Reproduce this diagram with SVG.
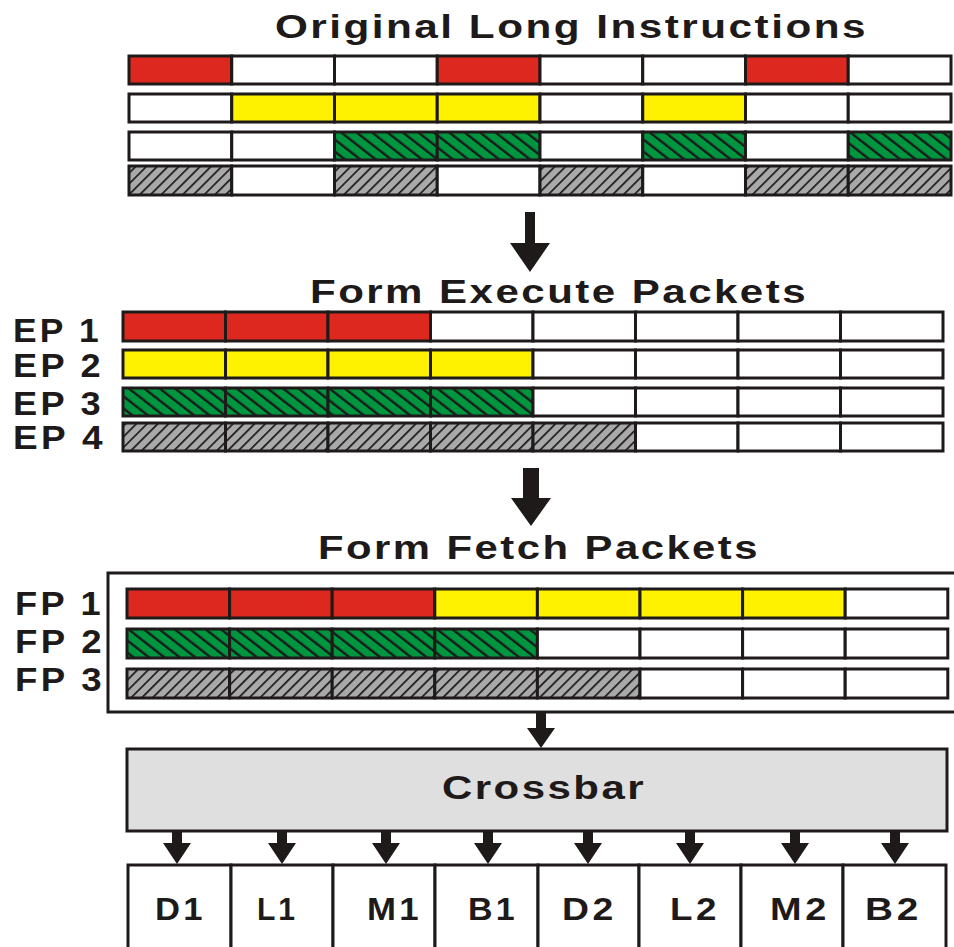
<svg xmlns="http://www.w3.org/2000/svg" width="954" height="947" viewBox="0 0 954 947">
<defs>
<pattern id="hg" patternUnits="userSpaceOnUse" width="9.5" height="9.5" patternTransform="rotate(-52)">
<rect width="9.5" height="9.5" fill="#00963f"/>
<rect x="0" y="0" width="2.4" height="9.5" fill="#1a1a1a"/>
</pattern>
<pattern id="hs" patternUnits="userSpaceOnUse" width="7.6" height="7.6" patternTransform="rotate(45)">
<rect width="7.6" height="7.6" fill="#a9a9a9"/>
<rect x="0" y="0" width="1.7" height="7.6" fill="#1a1a1a"/>
</pattern>
</defs>
<style>
rect.c{stroke:#1e1a1a;stroke-width:3}
.W{fill:#ffffff}.R{fill:#dc281e}.Y{fill:#fff200}.G{fill:url(#hg)}.S{fill:url(#hs)}
text{font-family:"Liberation Sans",Arial,sans-serif;font-weight:bold;fill:#1e1a1a}
.t{font-size:34px;letter-spacing:2px}
.lb{font-size:33px;letter-spacing:3px}
.u{font-size:31px;letter-spacing:3px}
.ar{fill:#1e1a1a}
</style>
<rect width="954" height="947" fill="#ffffff"/>

<g id="title1"><text class="t" x="275" y="38" textLength="593" lengthAdjust="spacingAndGlyphs">Original Long Instructions</text></g>

<g id="original">
<g id="orow1">
<rect class="c R" x="129" y="56" width="102.75" height="28"/>
<rect class="c W" x="231.75" y="56" width="102.75" height="28"/>
<rect class="c W" x="334.5" y="56" width="102.75" height="28"/>
<rect class="c R" x="437.25" y="56" width="102.75" height="28"/>
<rect class="c W" x="540" y="56" width="102.75" height="28"/>
<rect class="c W" x="642.75" y="56" width="102.75" height="28"/>
<rect class="c R" x="745.5" y="56" width="102.75" height="28"/>
<rect class="c W" x="848.25" y="56" width="102.75" height="28"/>
</g>
<g id="orow2">
<rect class="c W" x="129" y="94" width="102.75" height="28"/>
<rect class="c Y" x="231.75" y="94" width="102.75" height="28"/>
<rect class="c Y" x="334.5" y="94" width="102.75" height="28"/>
<rect class="c Y" x="437.25" y="94" width="102.75" height="28"/>
<rect class="c W" x="540" y="94" width="102.75" height="28"/>
<rect class="c Y" x="642.75" y="94" width="102.75" height="28"/>
<rect class="c W" x="745.5" y="94" width="102.75" height="28"/>
<rect class="c W" x="848.25" y="94" width="102.75" height="28"/>
</g>
<g id="orow3">
<rect class="c W" x="129" y="132" width="102.75" height="28"/>
<rect class="c W" x="231.75" y="132" width="102.75" height="28"/>
<rect class="c G" x="334.5" y="132" width="102.75" height="28"/>
<rect class="c G" x="437.25" y="132" width="102.75" height="28"/>
<rect class="c W" x="540" y="132" width="102.75" height="28"/>
<rect class="c G" x="642.75" y="132" width="102.75" height="28"/>
<rect class="c W" x="745.5" y="132" width="102.75" height="28"/>
<rect class="c G" x="848.25" y="132" width="102.75" height="28"/>
</g>
<g id="orow4">
<rect class="c S" x="129" y="166" width="102.75" height="29"/>
<rect class="c W" x="231.75" y="166" width="102.75" height="29"/>
<rect class="c S" x="334.5" y="166" width="102.75" height="29"/>
<rect class="c W" x="437.25" y="166" width="102.75" height="29"/>
<rect class="c S" x="540" y="166" width="102.75" height="29"/>
<rect class="c W" x="642.75" y="166" width="102.75" height="29"/>
<rect class="c S" x="745.5" y="166" width="102.75" height="29"/>
<rect class="c S" x="848.25" y="166" width="102.75" height="29"/>
</g>
</g>

<g id="title2"><text class="t" x="310" y="303" textLength="498" lengthAdjust="spacingAndGlyphs">Form Execute Packets</text></g>

<g id="execute">
<g id="ep1">
<text class="lb" x="13" y="342" textLength="89" lengthAdjust="spacingAndGlyphs">EP 1</text>
<rect class="c R" x="123" y="312" width="102.5" height="29"/>
<rect class="c R" x="225.5" y="312" width="102.5" height="29"/>
<rect class="c R" x="328" y="312" width="102.5" height="29"/>
<rect class="c W" x="430.5" y="312" width="102.5" height="29"/>
<rect class="c W" x="533" y="312" width="102.5" height="29"/>
<rect class="c W" x="635.5" y="312" width="102.5" height="29"/>
<rect class="c W" x="738" y="312" width="102.5" height="29"/>
<rect class="c W" x="840.5" y="312" width="102.5" height="29"/>
</g>
<g id="ep2">
<text class="lb" x="13" y="377" textLength="91" lengthAdjust="spacingAndGlyphs">EP 2</text>
<rect class="c Y" x="123" y="350" width="102.5" height="28"/>
<rect class="c Y" x="225.5" y="350" width="102.5" height="28"/>
<rect class="c Y" x="328" y="350" width="102.5" height="28"/>
<rect class="c Y" x="430.5" y="350" width="102.5" height="28"/>
<rect class="c W" x="533" y="350" width="102.5" height="28"/>
<rect class="c W" x="635.5" y="350" width="102.5" height="28"/>
<rect class="c W" x="738" y="350" width="102.5" height="28"/>
<rect class="c W" x="840.5" y="350" width="102.5" height="28"/>
</g>
<g id="ep3">
<text class="lb" x="13" y="415" textLength="91" lengthAdjust="spacingAndGlyphs">EP 3</text>
<rect class="c G" x="123" y="388" width="102.5" height="28"/>
<rect class="c G" x="225.5" y="388" width="102.5" height="28"/>
<rect class="c G" x="328" y="388" width="102.5" height="28"/>
<rect class="c G" x="430.5" y="388" width="102.5" height="28"/>
<rect class="c W" x="533" y="388" width="102.5" height="28"/>
<rect class="c W" x="635.5" y="388" width="102.5" height="28"/>
<rect class="c W" x="738" y="388" width="102.5" height="28"/>
<rect class="c W" x="840.5" y="388" width="102.5" height="28"/>
</g>
<g id="ep4">
<text class="lb" x="13" y="449" textLength="93" lengthAdjust="spacingAndGlyphs">EP 4</text>
<rect class="c S" x="123" y="423" width="102.5" height="28"/>
<rect class="c S" x="225.5" y="423" width="102.5" height="28"/>
<rect class="c S" x="328" y="423" width="102.5" height="28"/>
<rect class="c S" x="430.5" y="423" width="102.5" height="28"/>
<rect class="c S" x="533" y="423" width="102.5" height="28"/>
<rect class="c W" x="635.5" y="423" width="102.5" height="28"/>
<rect class="c W" x="738" y="423" width="102.5" height="28"/>
<rect class="c W" x="840.5" y="423" width="102.5" height="28"/>
</g>
</g>

<g id="title3"><text class="t" x="318" y="559" textLength="442" lengthAdjust="spacingAndGlyphs">Form Fetch Packets</text></g>

<g id="fetch">
<rect x="108" y="573" width="860" height="139" fill="#ffffff" stroke="#1e1a1a" stroke-width="3"/>
<g id="fp1">
<text class="lb" x="15" y="615" textLength="89" lengthAdjust="spacingAndGlyphs">FP 1</text>
<rect class="c R" x="127" y="589" width="102.6" height="29"/>
<rect class="c R" x="229.6" y="589" width="102.6" height="29"/>
<rect class="c R" x="332.2" y="589" width="102.6" height="29"/>
<rect class="c Y" x="434.8" y="589" width="102.6" height="29"/>
<rect class="c Y" x="537.4" y="589" width="102.6" height="29"/>
<rect class="c Y" x="640" y="589" width="102.6" height="29"/>
<rect class="c Y" x="742.6" y="589" width="102.6" height="29"/>
<rect class="c W" x="845.2" y="589" width="102.6" height="29"/>
</g>
<g id="fp2">
<text class="lb" x="15" y="653" textLength="90" lengthAdjust="spacingAndGlyphs">FP 2</text>
<rect class="c G" x="127" y="629" width="102.6" height="29"/>
<rect class="c G" x="229.6" y="629" width="102.6" height="29"/>
<rect class="c G" x="332.2" y="629" width="102.6" height="29"/>
<rect class="c G" x="434.8" y="629" width="102.6" height="29"/>
<rect class="c W" x="537.4" y="629" width="102.6" height="29"/>
<rect class="c W" x="640" y="629" width="102.6" height="29"/>
<rect class="c W" x="742.6" y="629" width="102.6" height="29"/>
<rect class="c W" x="845.2" y="629" width="102.6" height="29"/>
</g>
<g id="fp3">
<text class="lb" x="15" y="691" textLength="90" lengthAdjust="spacingAndGlyphs">FP 3</text>
<rect class="c S" x="127" y="669" width="102.6" height="29"/>
<rect class="c S" x="229.6" y="669" width="102.6" height="29"/>
<rect class="c S" x="332.2" y="669" width="102.6" height="29"/>
<rect class="c S" x="434.8" y="669" width="102.6" height="29"/>
<rect class="c S" x="537.4" y="669" width="102.6" height="29"/>
<rect class="c W" x="640" y="669" width="102.6" height="29"/>
<rect class="c W" x="742.6" y="669" width="102.6" height="29"/>
<rect class="c W" x="845.2" y="669" width="102.6" height="29"/>
</g>
</g>

<g id="crossbar">
<rect x="127" y="749" width="820" height="82" fill="#dfdfdf" stroke="#1e1a1a" stroke-width="3"/>
<text class="t" x="442" y="799" textLength="204" lengthAdjust="spacingAndGlyphs">Crossbar</text>
</g>

<g id="units">
<g id="uD1"><rect class="c W" x="128" y="865" width="103" height="100"/><text class="u" x="155" y="920" textLength="51" lengthAdjust="spacingAndGlyphs">D1</text></g>
<g id="uL1"><rect class="c W" x="231" y="865" width="102" height="100"/><text class="u" x="257" y="920" textLength="41" lengthAdjust="spacingAndGlyphs">L1</text></g>
<g id="uM1"><rect class="c W" x="333" y="865" width="102" height="100"/><text class="u" x="367" y="920" textLength="55" lengthAdjust="spacingAndGlyphs">M1</text></g>
<g id="uB1"><rect class="c W" x="435" y="865" width="103" height="100"/><text class="u" x="468" y="920" textLength="50" lengthAdjust="spacingAndGlyphs">B1</text></g>
<g id="uD2"><rect class="c W" x="538" y="865" width="101" height="100"/><text class="u" x="562" y="920" textLength="55" lengthAdjust="spacingAndGlyphs">D2</text></g>
<g id="uL2"><rect class="c W" x="639" y="865" width="102" height="100"/><text class="u" x="670" y="920" textLength="50" lengthAdjust="spacingAndGlyphs">L2</text></g>
<g id="uM2"><rect class="c W" x="741" y="865" width="102" height="100"/><text class="u" x="770" y="920" textLength="60" lengthAdjust="spacingAndGlyphs">M2</text></g>
<g id="uB2"><rect class="c W" x="843" y="865" width="103" height="100"/><text class="u" x="865" y="920" textLength="57" lengthAdjust="spacingAndGlyphs">B2</text></g>
</g>

<g id="connectors" class="ar">
<polygon points="525,212 535,212 535,243 550,243 530,272 510,243 525,243"/>
<polygon points="523,468 539,468 539,498 551,498 531,526 511,498 523,498"/>
<polygon points="536,712 546,712 546,728 555,728 541,748 527,728 536,728"/>
<polygon points="172,832 182,832 182,843 191,843 177,864 163,843 172,843"/>
<polygon points="277,832 287,832 287,843 296,843 282,864 268,843 277,843"/>
<polygon points="381,832 391,832 391,843 400,843 386,864 372,843 381,843"/>
<polygon points="483,832 493,832 493,843 502,843 488,864 474,843 483,843"/>
<polygon points="583,832 593,832 593,843 602,843 588,864 574,843 583,843"/>
<polygon points="685,832 695,832 695,843 704,843 690,864 676,843 685,843"/>
<polygon points="790,832 800,832 800,843 809,843 795,864 781,843 790,843"/>
<polygon points="890,832 900,832 900,843 909,843 895,864 881,843 890,843"/>
</g>
</svg>
